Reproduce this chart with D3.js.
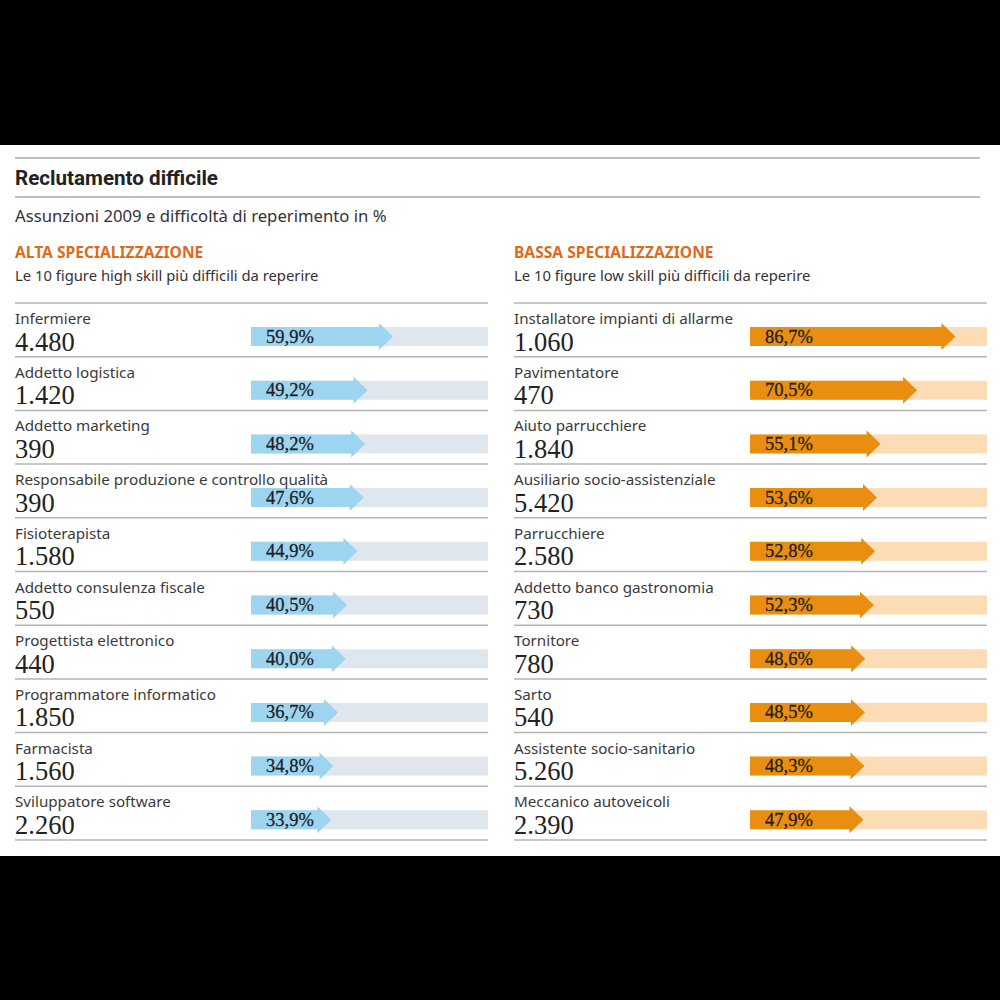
<!DOCTYPE html>
<html>
<head>
<meta charset="utf-8">
<script src="https://cdn.jsdelivr.net/npm/d3@7"></script>
<style>
  html, body { margin: 0; padding: 0; background: #000; }
  svg { display: block; }
</style>
</head>
<body>
<svg id="chart" width="1000" height="1000"></svg>
<script>
// ---- DATA ----
const title = "Reclutamento difficile";
const subtitle = "Assunzioni 2009 e difficoltà di reperimento in %";

const highHeader = "ALTA SPECIALIZZAZIONE";
const highSub = "Le 10 figure high skill più difficili da reperire";
const highJobs = ["Infermiere", "Addetto logistica", "Addetto marketing",
  "Responsabile produzione e controllo qualità", "Fisioterapista",
  "Addetto consulenza fiscale", "Progettista elettronico",
  "Programmatore informatico", "Farmacista", "Sviluppatore software"];
const highHires = [4480, 1420, 390, 390, 1580, 550, 440, 1850, 1560, 2260];
const highPct = [59.9, 49.2, 48.2, 47.6, 44.9, 40.5, 40.0, 36.7, 34.8, 33.9];

const lowHeader = "BASSA SPECIALIZZAZIONE";
const lowSub = "Le 10 figure low skill più difficili da reperire";
const lowJobs = ["Installatore impianti di allarme", "Pavimentatore",
  "Aiuto parrucchiere", "Ausiliario socio-assistenziale", "Parrucchiere",
  "Addetto banco gastronomia", "Tornitore", "Sarto",
  "Assistente socio-sanitario", "Meccanico autoveicoli"];
const lowHires = [1060, 470, 1840, 5420, 2580, 730, 780, 540, 5260, 2390];
const lowPct = [86.7, 70.5, 55.1, 53.6, 52.8, 52.3, 48.6, 48.5, 48.3, 47.9];

// ---- RENDER ----
const svg = d3.select("#chart");
svg.append("rect").attr("x", 0).attr("y", 0).attr("width", 1000).attr("height", 1000).attr("fill", "#000");
svg.append("rect").attr("x", 0).attr("y", 145).attr("width", 1000).attr("height", 711).attr("fill", "#fff");

const sans = "'Noto Sans', 'Open Sans', sans-serif";
const serif = "'Liberation Serif', 'DejaVu Serif', serif";

// header rules
[158, 197].forEach(y => svg.append("line")
  .attr("x1", 15).attr("x2", 980).attr("y1", y).attr("y2", y)
  .attr("stroke", "#a8a8a8").attr("stroke-width", 1.5));

svg.append("text").attr("x", 15).attr("y", 185)
  .attr("font-family", "Roboto, sans-serif").attr("font-weight", "bold")
  .attr("font-size", 21).attr("fill", "#222")
  .attr("textLength", 203).attr("lengthAdjust", "spacingAndGlyphs")
  .text(title);

svg.append("text").attr("x", 15).attr("y", 222)
  .attr("font-family", sans).attr("font-size", 16.7).attr("fill", "#333")
  .text(subtitle);

const itFmt = d3.formatLocale({decimal: ",", thousands: ".", grouping: [3], currency: ["€", ""]});
const fmtInt = itFmt.format(",d");
const fmtPct = v => itFmt.format(".1f")(v) + "%";

const rowY = d3.scaleBand().domain(d3.range(10)).range([303, 840]).paddingInner(0).paddingOuter(0);

function panel(x0, header, sub, jobs, hires, pct, barColor, bgColor) {
  const g = svg.append("g");
  const right = x0 + 473;
  g.append("text").attr("x", x0).attr("y", 258)
    .attr("font-family", sans).attr("font-weight", "bold").attr("font-size", 15.6)
    .attr("fill", "#e06a1c").text(header);
  g.append("text").attr("x", x0).attr("y", 281)
    .attr("font-family", sans).attr("font-size", 14.8).attr("fill", "#333").text(sub);

  const xs = d3.scaleLinear().domain([0, 100]).range([x0 + 236, right]);

  // separators
  g.selectAll("line.sep").data(d3.range(11)).join("line")
    .attr("class", "sep")
    .attr("x1", x0).attr("x2", right)
    .attr("y1", i => i < 10 ? rowY(i) : rowY(9) + rowY.bandwidth())
    .attr("y2", i => i < 10 ? rowY(i) : rowY(9) + rowY.bandwidth())
    .attr("stroke", "#b5b5b5").attr("stroke-width", 1.5);

  const rows = g.selectAll("g.row").data(d3.range(jobs.length)).join("g")
    .attr("class", "row")
    .attr("transform", i => `translate(0,${rowY(i)})`);

  rows.append("rect")
    .attr("x", xs(0)).attr("y", 24).attr("width", xs(100) - xs(0)).attr("height", 19)
    .attr("fill", bgColor);

  const head = 14;
  rows.append("path")
    .attr("d", i => {
      const a = xs(0), t = xs(pct[i]), b = t - head;
      return `M${a},24 L${b},24 L${b},20 L${t},33.5 L${b},47 L${b},43 L${a},43 Z`;
    })
    .attr("fill", barColor);

  rows.append("text").attr("x", x0).attr("y", 21)
    .attr("font-family", sans).attr("font-size", 15.2).attr("fill", "#3a3a3a")
    .text(i => jobs[i]);
  rows.append("text").attr("x", x0).attr("y", 47.5)
    .attr("font-family", serif).attr("font-size", 26.5).attr("fill", "#222")
    .text(i => fmtInt(hires[i]));
  rows.append("text").attr("x", xs(0) + 15).attr("y", 39.5)
    .attr("font-family", serif).attr("font-size", 18.5).attr("fill", "#1e1e1e")
    .attr("stroke", "#1e1e1e").attr("stroke-width", 0.3)
    .text(i => fmtPct(pct[i]));
}

panel(15, highHeader, highSub, highJobs, highHires, highPct, "#9dd5f1", "#dfe6ee");
panel(514, lowHeader, lowSub, lowJobs, lowHires, lowPct, "#e98e10", "#fcdcb4");
</script>
</body>
</html>
